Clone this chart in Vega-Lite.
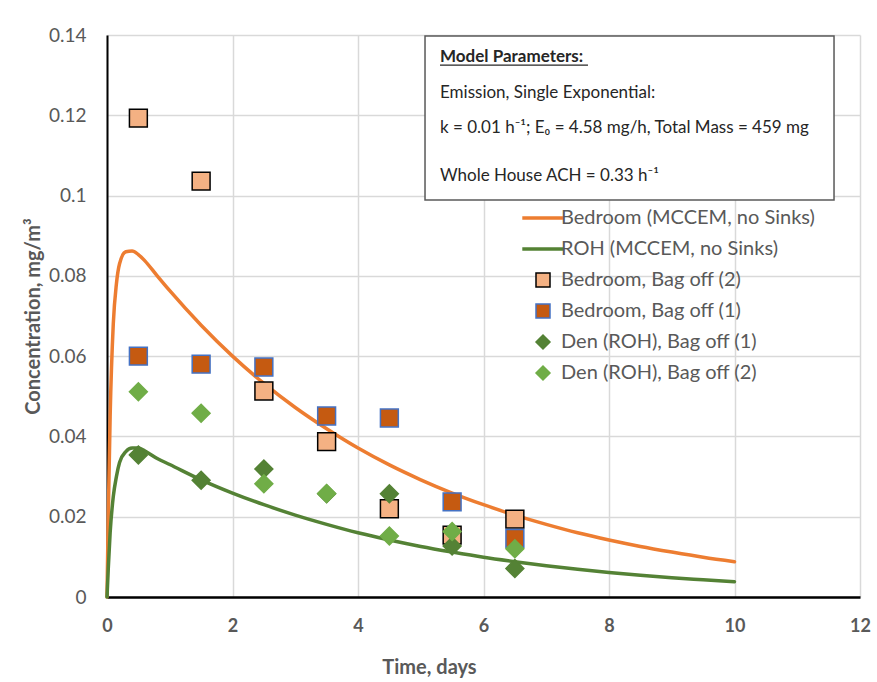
{
  "$schema": "https://vega.github.io/schema/vega-lite/v6.json",
  "width": 753,
  "height": 562,
  "autosize": "none",
  "padding": {"left": 107, "top": 35, "right": 17, "bottom": 85},
  "background": "white",
  "config": {
    "view": {"stroke": null},
    "font": "Lato",
    "legend": {
      "orient": "none", "legendX": 426, "legendY": 173, "padding": 0,
      "labelFont": "Lato", "labelFontSize": 20, "labelColor": "#595959", "labelLimit": 400,
      "symbolSize": 196, "rowPadding": 11, "labelOffset": 8, "symbolStrokeWidth": 1.5, "symbolOpacity": 1
    }
  },
  "datasets": {
    "curves": [
      {"series": "Bedroom (MCCEM, no Sinks)", "t": 0, "c": 0},
      {"series": "Bedroom (MCCEM, no Sinks)", "t": 0.02, "c": 0.02},
      {"series": "Bedroom (MCCEM, no Sinks)", "t": 0.05, "c": 0.045},
      {"series": "Bedroom (MCCEM, no Sinks)", "t": 0.1, "c": 0.068},
      {"series": "Bedroom (MCCEM, no Sinks)", "t": 0.15, "c": 0.078},
      {"series": "Bedroom (MCCEM, no Sinks)", "t": 0.2, "c": 0.083},
      {"series": "Bedroom (MCCEM, no Sinks)", "t": 0.3, "c": 0.086},
      {"series": "Bedroom (MCCEM, no Sinks)", "t": 0.4, "c": 0.0862},
      {"series": "Bedroom (MCCEM, no Sinks)", "t": 0.5, "c": 0.0853},
      {"series": "Bedroom (MCCEM, no Sinks)", "t": 0.6, "c": 0.0838},
      {"series": "Bedroom (MCCEM, no Sinks)", "t": 0.8, "c": 0.08},
      {"series": "Bedroom (MCCEM, no Sinks)", "t": 1.0, "c": 0.0763},
      {"series": "Bedroom (MCCEM, no Sinks)", "t": 1.5, "c": 0.0677},
      {"series": "Bedroom (MCCEM, no Sinks)", "t": 2.0, "c": 0.06},
      {"series": "Bedroom (MCCEM, no Sinks)", "t": 2.5, "c": 0.0532},
      {"series": "Bedroom (MCCEM, no Sinks)", "t": 3.0, "c": 0.0472},
      {"series": "Bedroom (MCCEM, no Sinks)", "t": 3.5, "c": 0.0419},
      {"series": "Bedroom (MCCEM, no Sinks)", "t": 4.0, "c": 0.0371},
      {"series": "Bedroom (MCCEM, no Sinks)", "t": 4.5, "c": 0.0329},
      {"series": "Bedroom (MCCEM, no Sinks)", "t": 5.0, "c": 0.0292},
      {"series": "Bedroom (MCCEM, no Sinks)", "t": 5.5, "c": 0.0259},
      {"series": "Bedroom (MCCEM, no Sinks)", "t": 6.0, "c": 0.023},
      {"series": "Bedroom (MCCEM, no Sinks)", "t": 6.5, "c": 0.0204},
      {"series": "Bedroom (MCCEM, no Sinks)", "t": 7.0, "c": 0.0181},
      {"series": "Bedroom (MCCEM, no Sinks)", "t": 7.5, "c": 0.016},
      {"series": "Bedroom (MCCEM, no Sinks)", "t": 8.0, "c": 0.0142},
      {"series": "Bedroom (MCCEM, no Sinks)", "t": 8.5, "c": 0.0126},
      {"series": "Bedroom (MCCEM, no Sinks)", "t": 9.0, "c": 0.0112},
      {"series": "Bedroom (MCCEM, no Sinks)", "t": 9.5, "c": 0.0099},
      {"series": "Bedroom (MCCEM, no Sinks)", "t": 10.0, "c": 0.0088},
      {"series": "ROH (MCCEM, no Sinks)", "t": 0, "c": 0},
      {"series": "ROH (MCCEM, no Sinks)", "t": 0.02, "c": 0.007},
      {"series": "ROH (MCCEM, no Sinks)", "t": 0.05, "c": 0.016},
      {"series": "ROH (MCCEM, no Sinks)", "t": 0.1, "c": 0.025},
      {"series": "ROH (MCCEM, no Sinks)", "t": 0.15, "c": 0.03},
      {"series": "ROH (MCCEM, no Sinks)", "t": 0.2, "c": 0.0335},
      {"series": "ROH (MCCEM, no Sinks)", "t": 0.3, "c": 0.0362},
      {"series": "ROH (MCCEM, no Sinks)", "t": 0.4, "c": 0.0371},
      {"series": "ROH (MCCEM, no Sinks)", "t": 0.5, "c": 0.0371},
      {"series": "ROH (MCCEM, no Sinks)", "t": 0.6, "c": 0.0364},
      {"series": "ROH (MCCEM, no Sinks)", "t": 0.8, "c": 0.0345},
      {"series": "ROH (MCCEM, no Sinks)", "t": 1.0, "c": 0.033},
      {"series": "ROH (MCCEM, no Sinks)", "t": 1.5, "c": 0.0292},
      {"series": "ROH (MCCEM, no Sinks)", "t": 2.0, "c": 0.0259},
      {"series": "ROH (MCCEM, no Sinks)", "t": 2.5, "c": 0.023},
      {"series": "ROH (MCCEM, no Sinks)", "t": 3.0, "c": 0.0204},
      {"series": "ROH (MCCEM, no Sinks)", "t": 3.5, "c": 0.0181},
      {"series": "ROH (MCCEM, no Sinks)", "t": 4.0, "c": 0.016},
      {"series": "ROH (MCCEM, no Sinks)", "t": 4.5, "c": 0.0142},
      {"series": "ROH (MCCEM, no Sinks)", "t": 5.0, "c": 0.0126},
      {"series": "ROH (MCCEM, no Sinks)", "t": 5.5, "c": 0.0112},
      {"series": "ROH (MCCEM, no Sinks)", "t": 6.0, "c": 0.0099},
      {"series": "ROH (MCCEM, no Sinks)", "t": 6.5, "c": 0.0088},
      {"series": "ROH (MCCEM, no Sinks)", "t": 7.0, "c": 0.0078},
      {"series": "ROH (MCCEM, no Sinks)", "t": 7.5, "c": 0.0069},
      {"series": "ROH (MCCEM, no Sinks)", "t": 8.0, "c": 0.0061},
      {"series": "ROH (MCCEM, no Sinks)", "t": 8.5, "c": 0.0054},
      {"series": "ROH (MCCEM, no Sinks)", "t": 9.0, "c": 0.0048},
      {"series": "ROH (MCCEM, no Sinks)", "t": 9.5, "c": 0.0043},
      {"series": "ROH (MCCEM, no Sinks)", "t": 10.0, "c": 0.0038}
    ],
    "obs": [
      {"series": "Bedroom, Bag off (2)", "t": 0.5, "c": 0.1193},
      {"series": "Bedroom, Bag off (2)", "t": 1.5, "c": 0.1036},
      {"series": "Bedroom, Bag off (2)", "t": 2.5, "c": 0.0513},
      {"series": "Bedroom, Bag off (2)", "t": 3.5, "c": 0.0387},
      {"series": "Bedroom, Bag off (2)", "t": 4.5, "c": 0.022},
      {"series": "Bedroom, Bag off (2)", "t": 5.5, "c": 0.0154},
      {"series": "Bedroom, Bag off (2)", "t": 6.5, "c": 0.0194},
      {"series": "Bedroom, Bag off (1)", "t": 0.5, "c": 0.06},
      {"series": "Bedroom, Bag off (1)", "t": 1.5, "c": 0.058},
      {"series": "Bedroom, Bag off (1)", "t": 2.5, "c": 0.0573},
      {"series": "Bedroom, Bag off (1)", "t": 3.5, "c": 0.0451},
      {"series": "Bedroom, Bag off (1)", "t": 4.5, "c": 0.0446},
      {"series": "Bedroom, Bag off (1)", "t": 5.5, "c": 0.0237},
      {"series": "Bedroom, Bag off (1)", "t": 6.5, "c": 0.0146},
      {"series": "Den (ROH), Bag off (1)", "t": 0.5, "c": 0.0354},
      {"series": "Den (ROH), Bag off (1)", "t": 1.5, "c": 0.0291},
      {"series": "Den (ROH), Bag off (1)", "t": 2.5, "c": 0.0319},
      {"series": "Den (ROH), Bag off (1)", "t": 3.5, "c": 0.0257},
      {"series": "Den (ROH), Bag off (1)", "t": 4.5, "c": 0.0257},
      {"series": "Den (ROH), Bag off (1)", "t": 5.5, "c": 0.0127},
      {"series": "Den (ROH), Bag off (1)", "t": 6.5, "c": 0.0071},
      {"series": "Den (ROH), Bag off (2)", "t": 0.5, "c": 0.0511},
      {"series": "Den (ROH), Bag off (2)", "t": 1.5, "c": 0.0458},
      {"series": "Den (ROH), Bag off (2)", "t": 2.5, "c": 0.0282},
      {"series": "Den (ROH), Bag off (2)", "t": 3.5, "c": 0.0258},
      {"series": "Den (ROH), Bag off (2)", "t": 4.5, "c": 0.0152},
      {"series": "Den (ROH), Bag off (2)", "t": 5.5, "c": 0.0163},
      {"series": "Den (ROH), Bag off (2)", "t": 6.5, "c": 0.012}
    ],
    "note": [{"n": 1}]
  },
  "layer": [
    {
      "data": {"name": "curves"},
      "mark": {"type": "line", "strokeWidth": 3.5, "strokeCap": "round", "interpolate": "monotone"},
      "encoding": {
        "x": {
          "field": "t", "type": "quantitative",
          "scale": {"domain": [0, 12], "nice": false, "zero": false},
          "axis": {
            "values": [0, 2, 4, 6, 8, 10, 12],
            "format": "d",
            "title": "Time, days",
            "grid": true, "gridColor": "#d9d9d9", "gridWidth": 1.5,
            "domainColor": "#000000", "domainWidth": 2.5,
            "ticks": false, "labelPadding": 20, "labelFlush": false,
            "labelFont": "Lato", "labelFontWeight": "bold", "labelFontSize": 18, "labelColor": "#595959",
            "titleFont": "Lato", "titleFontSize": 20, "titleFontWeight": "bold", "titleColor": "#595959",
            "titleX": 322, "titleY": 70, "titleBaseline": "middle", "titleAlign": "center"
          }
        },
        "y": {
          "field": "c", "type": "quantitative",
          "scale": {"domain": [0, 0.14], "nice": false},
          "axis": {
            "values": [0, 0.02, 0.04, 0.06, 0.08, 0.1, 0.12, 0.14],
            "format": "~g",
            "title": "Concentration, mg/m³",
            "grid": true, "gridColor": "#d9d9d9", "gridWidth": 1.5,
            "domainColor": "#000000", "domainWidth": 2,
            "ticks": false, "labelPadding": 21, "labelFlush": false,
            "labelFont": "Lato", "labelFontSize": 19, "labelColor": "#595959",
            "titleFont": "Lato", "titleFontSize": 20, "titleFontWeight": "bold", "titleColor": "#595959",
            "titleX": -74, "titleBaseline": "middle", "titleAlign": "center"
          }
        },
        "stroke": {
          "field": "series", "type": "nominal",
          "scale": {
            "domain": ["Bedroom (MCCEM, no Sinks)", "ROH (MCCEM, no Sinks)", "Bedroom, Bag off (2)", "Bedroom, Bag off (1)", "Den (ROH), Bag off (1)", "Den (ROH), Bag off (2)"],
            "range": ["#ED7D31", "#548235", "#000000", "#4472C4", "#548235", "#70AD47"]
          },
          "legend": {"title": null}
        }
      }
    },
    {
      "data": {"name": "obs"},
      "mark": {"type": "point", "filled": true, "opacity": 1, "size": 320, "strokeWidth": 1.5, "strokeOpacity": 1, "fillOpacity": 1},
      "encoding": {
        "x": {"field": "t", "type": "quantitative"},
        "y": {"field": "c", "type": "quantitative"},
        "fill": {
          "field": "series", "type": "nominal",
          "scale": {
            "domain": ["Bedroom (MCCEM, no Sinks)", "ROH (MCCEM, no Sinks)", "Bedroom, Bag off (2)", "Bedroom, Bag off (1)", "Den (ROH), Bag off (1)", "Den (ROH), Bag off (2)"],
            "range": ["#ED7D31", "#548235", "#F4B183", "#C55A11", "#548235", "#70AD47"]
          },
          "legend": {"title": null}
        },
        "stroke": {"field": "series", "type": "nominal", "legend": {"title": null}},
        "shape": {
          "field": "series", "type": "nominal",
          "scale": {
            "domain": ["Bedroom (MCCEM, no Sinks)", "ROH (MCCEM, no Sinks)", "Bedroom, Bag off (2)", "Bedroom, Bag off (1)", "Den (ROH), Bag off (1)", "Den (ROH), Bag off (2)"],
            "range": ["M-2.85,-0.13L2.85,-0.13L2.85,0.13L-2.85,0.13Z", "M-2.85,-0.13L2.85,-0.13L2.85,0.13L-2.85,0.13Z", "square", "square", "diamond", "diamond"]
          },
          "legend": {"title": null}
        }
      }
    },
    {
      "data": {"name": "note"},
      "mark": {"type": "rect", "fill": "white", "stroke": "#595959", "strokeWidth": 1.5},
      "encoding": {
        "x": {"datum": 5.068},
        "x2": {"datum": 11.586},
        "y": {"datum": 0.13976},
        "y2": {"datum": 0.0989}
      }
    },
    {
      "data": {"name": "note"},
      "mark": {"type": "text", "align": "left", "baseline": "middle", "font": "Lato", "fontSize": 17, "fontWeight": "bold", "color": "#262626"},
      "encoding": {
        "x": {"datum": 5.307},
        "y": {"datum": 0.1345},
        "text": {"value": "Model Parameters:"}
      }
    },
    {
      "data": {"name": "note"},
      "mark": {"type": "rule", "stroke": "#262626", "strokeWidth": 1.2},
      "encoding": {
        "x": {"datum": 5.307},
        "x2": {"datum": 7.665},
        "y": {"datum": 0.1325}
      }
    },
    {
      "data": {"name": "note"},
      "mark": {"type": "text", "align": "left", "baseline": "middle", "font": "Lato", "fontSize": 17, "color": "#262626"},
      "encoding": {
        "x": {"datum": 5.307},
        "y": {"datum": 0.1256},
        "text": {"value": "Emission, Single Exponential:"}
      }
    },
    {
      "data": {"name": "note"},
      "mark": {"type": "text", "align": "left", "baseline": "middle", "font": "Lato", "fontSize": 17, "color": "#262626"},
      "encoding": {
        "x": {"datum": 5.307},
        "y": {"datum": 0.1168},
        "text": {"value": "k = 0.01 h⁻¹; E₀  =  4.58 mg/h, Total Mass = 459 mg"}
      }
    },
    {
      "data": {"name": "note"},
      "mark": {"type": "text", "align": "left", "baseline": "middle", "font": "Lato", "fontSize": 17, "color": "#262626"},
      "encoding": {
        "x": {"datum": 5.307},
        "y": {"datum": 0.1049},
        "text": {"value": "Whole House ACH = 0.33 h⁻¹"}
      }
    }
  ]
}
